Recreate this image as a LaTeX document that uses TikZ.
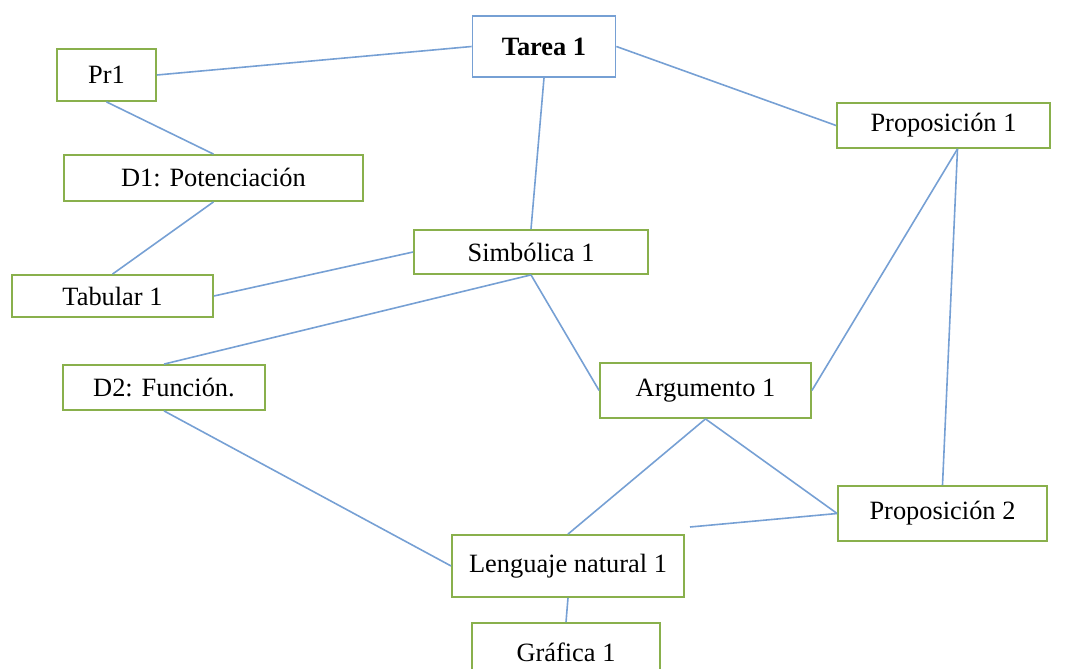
\documentclass[tikz,border=0pt]{standalone}
\usepackage{fontspec}
\setmainfont{Liberation Serif}
\definecolor{boxgreen}{RGB}{137,176,76}
\definecolor{lineblue}{RGB}{118,160,212}
\begin{document}
\begin{tikzpicture}[x=0.5pt,y=-0.5pt,font=\fontsize{13.2}{15}\selectfont,
  idea/.style={draw=boxgreen,line width=0.9pt,fill=white,inner sep=0pt},
  link/.style={draw=lineblue,line width=0.8pt}]
  \useasboundingbox (0,0) rectangle (1066,669);
  % nodes
  \node[idea,draw=lineblue,minimum width=71.5pt,minimum height=30.5pt,font=\fontsize{13.2}{15}\selectfont\bfseries] (tarea) at (544,46.5) {Tarea 1};
  \node[idea,minimum width=49.5pt,minimum height=26pt] (pr1) at (106.5,75) {Pr1};
  \node[idea,minimum width=106.5pt,minimum height=22.5pt] (prop1) at (943.5,125.5) {Proposición 1};
  \node[idea,minimum width=149.5pt,minimum height=23pt] (d1) at (213.5,178) {D1: Potenciación};
  \node[idea,minimum width=117pt,minimum height=22pt] (simb) at (531,252) {Simbólica 1};
  \node[idea,minimum width=100.5pt,minimum height=21pt] (tab) at (112.5,296) {Tabular 1};
  \node[idea,minimum width=101pt,minimum height=22.5pt] (d2) at (164,387.5) {D2: Función.};
  \node[idea,minimum width=105.5pt,minimum height=27.5pt] (arg) at (705.5,390.5) {Argumento 1};
  \node[idea,minimum width=104.5pt,minimum height=27.5pt] (prop2) at (942.5,513.5) {Proposición 2};
  \node[idea,minimum width=116pt,minimum height=31pt] (leng) at (568,566) {Lenguaje natural 1};
  \node[idea,minimum width=94pt,minimum height=29pt] (graf) at (566,652) {Gráfica 1};
  \coordinate (loose) at (690,527);
  % links
  \draw[link] (pr1.east) -- (tarea.west);
  \draw[link] (tarea.east) -- (prop1.west);
  \draw[link] (tarea.south) -- (simb.north);
  \draw[link] (pr1.south) -- (d1.north);
  \draw[link] (d1.south) -- (tab.north);
  \draw[link] (tab.east) -- (simb.west);
  \draw[link] (simb.south) -- (d2.north);
  \draw[link] (simb.south) -- (arg.west);
  \draw[link] ([xshift=7pt]prop1.south) -- (arg.east);
  \draw[link] ([xshift=7pt]prop1.south) -- (prop2.north);
  \draw[link] (arg.south) -- (leng.north);
  \draw[link] (arg.south) -- (prop2.west);
  \draw[link] (prop2.west) -- (loose);
  \draw[link] (d2.south) -- (leng.west);
  \draw[link] (leng.south) -- (graf.north);
\end{tikzpicture}
\end{document}
